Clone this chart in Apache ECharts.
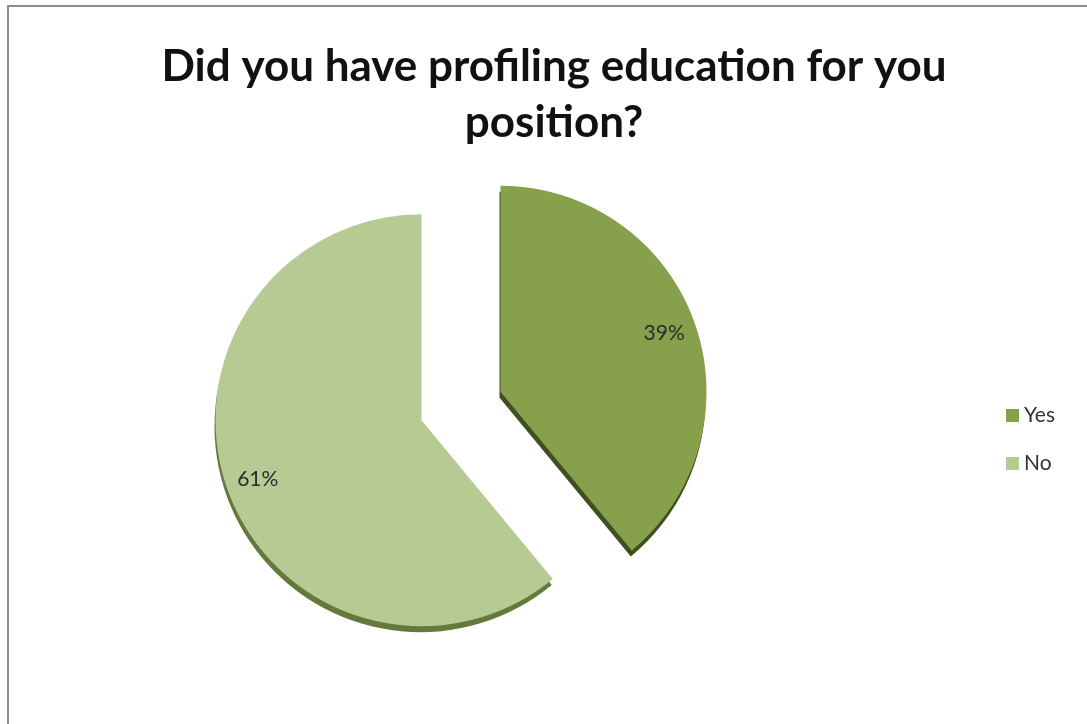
<!DOCTYPE html>
<html>
<head>
<meta charset="utf-8">
<title>Profiling education</title>
<script src="https://cdn.jsdelivr.net/npm/echarts@6/dist/echarts.min.js"></script>
<style>
  html, body { margin: 0; padding: 0; background: #ffffff; }
  #chart { width: 1087px; height: 724px; }
</style>
</head>
<body>
<div id="chart"></div>
<script>
// Survey answers and their shares (percent)
const categories = ['Yes', 'No'];
const shares = [39, 61];
const sliceColors = ['#86a04c', '#b6ca94'];
const edgeColors = ['#3f4f1f', '#66793d'];
const titleLines = ['Did you have profiling education for you', 'position?'];

const FONT = 'Lato, "Open Sans", sans-serif';
const center = [461, 406];
const radius = 206;
const explode = 42;

const pieData = categories.map((name, i) => ({
  name,
  value: shares[i],
  selected: true,
  itemStyle: {
    color: sliceColors[i],
    shadowColor: edgeColors[i],
    shadowBlur: 0,
    shadowOffsetX: -1,
    shadowOffsetY: 6
  }
}));

const labelData = categories.map((name, i) => ({
  name,
  value: shares[i],
  selected: true
}));

const chart = echarts.init(document.getElementById('chart'), null, { renderer: 'canvas' });

chart.setOption({
  animation: false,
  backgroundColor: '#ffffff',
  title: {
    text: titleLines.join('\n'),
    left: 549,
    textAlign: 'center',
    top: 34,
    textStyle: {
      fontFamily: FONT,
      fontWeight: 'bold',
      fontSize: 44,
      lineHeight: 56,
      color: '#111111'
    }
  },
  legend: {
    orient: 'vertical',
    left: 1001,
    top: 400,
    itemWidth: 13,
    itemHeight: 13,
    itemGap: 27,
    icon: 'rect',
    selectedMode: false,
    data: categories,
    textStyle: { fontFamily: FONT, fontSize: 21, color: '#333333', padding: [0, 0, 0, 0] }
  },
  graphic: [{
    type: 'rect',
    silent: true,
    shape: { x: 8, y: 6, width: 1200, height: 900 },
    style: { fill: 'none', stroke: '#8c8c8c', lineWidth: 2 },
    z: 100
  }],
  series: [
    {
      type: 'pie',
      center,
      radius,
      startAngle: 90,
      clockwise: true,
      selectedMode: 'multiple',
      selectedOffset: explode,
      silent: true,
      label: { show: false },
      labelLine: { show: false },
      emphasis: { disabled: true },
      data: pieData
    },
    {
      // label carrier: same geometry, invisible ring so labels sit near the rim
      type: 'pie',
      center,
      radius: [radius * 0.66, radius * 1.0],
      startAngle: 90,
      clockwise: true,
      selectedMode: 'multiple',
      selectedOffset: explode,
      silent: true,
      itemStyle: { color: 'rgba(0,0,0,0)' },
      label: {
        show: true,
        position: 'inside',
        formatter: '{c}%',
        fontFamily: FONT,
        fontSize: 21,
        color: '#2b2b2b'
      },
      labelLine: { show: false },
      emphasis: { disabled: true },
      z: 3,
      data: labelData
    }
  ]
});
</script>
</body>
</html>
